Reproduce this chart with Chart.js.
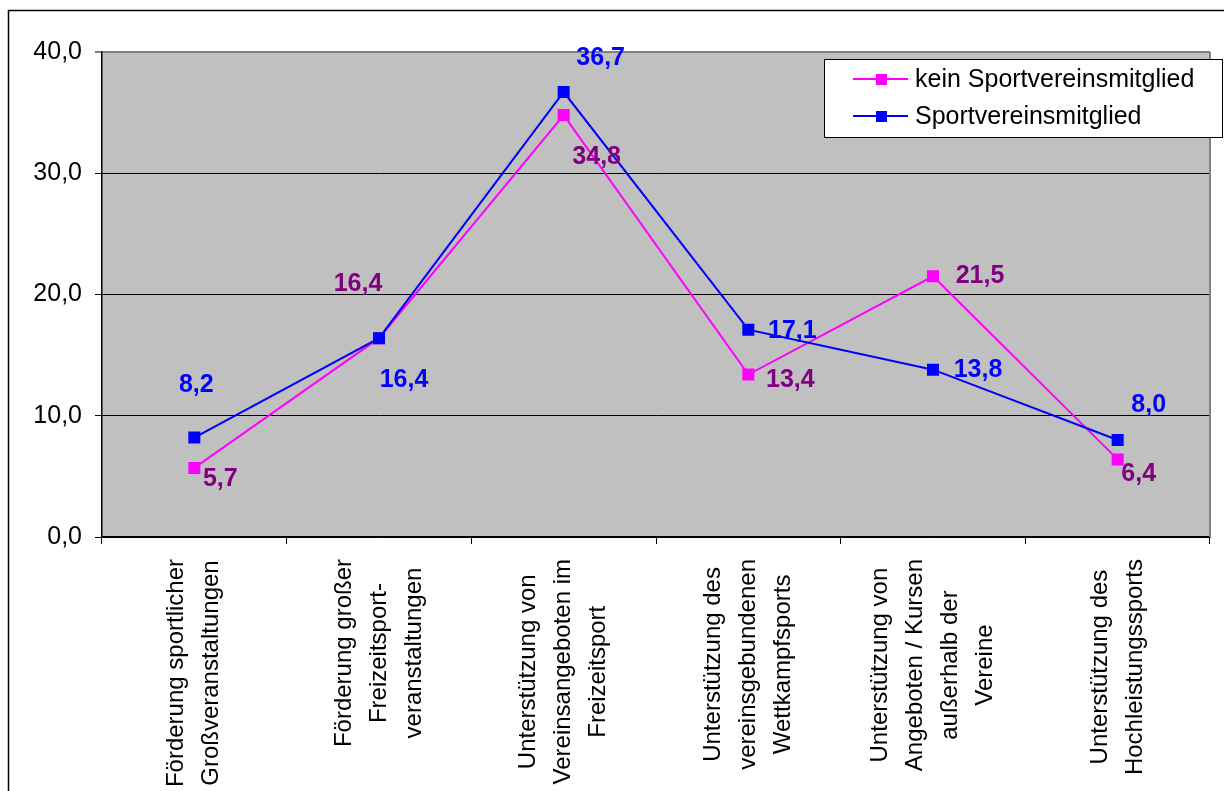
<!DOCTYPE html>
<html>
<head>
<meta charset="utf-8">
<script src="https://cdn.jsdelivr.net/npm/chart.js@4"></script>
<style>
  html, body { margin: 0; padding: 0; background: #fff; }
  #wrap { width: 1224px; height: 791px; position: relative; }
</style>
</head>
<body>
<div id="wrap"><canvas id="lineChart"></canvas></div>
<script>
const categories = [
    ["Förderung sportlicher", "Großveranstaltungen"],
    ["Förderung großer", "Freizeitsport-", "veranstaltungen"],
    ["Unterstützung von", "Vereinsangeboten im", "Freizeitsport"],
    ["Unterstützung des", "vereinsgebundenen", "Wettkampfsports"],
    ["Unterstützung von", "Angeboten / Kursen", "außerhalb der", "Vereine"],
    ["Unterstützung des", "Hochleistungssports"]
];
const keinMitglied = [5.7, 16.4, 34.8, 13.4, 21.5, 6.4];
const mitglied = [8.2, 16.4, 36.7, 17.1, 13.8, 8.0];
const yTicks = [0, 10, 20, 30, 40];

// where the value labels sit relative to their point (px)
const keinOffsets = [[26, 11], [-21, -54], [33, 42], [42, 6], [47, 0], [21, 15]];
const mitgliedOffsets = [[2, -52], [25, 42], [37, -34], [44, 1], [45, 0], [31, -35]];

const FONT = '"Liberation Sans", Arial, sans-serif';

function fmt(v) {
    return Number(v).toFixed(1).replace(".", ",");
}

const chartBackground = {
    id: "chartBackground",
    beforeDraw(chart) {
        const { ctx, chartArea: a } = chart;
        ctx.save();
        ctx.fillStyle = "#c0c0c0";
        ctx.fillRect(a.left, a.top, a.right - a.left, a.bottom - a.top);
        ctx.restore();
    },
    afterDraw(chart) {
        const { ctx, chartArea: a } = chart;
        ctx.save();
        // plot area right border
        ctx.strokeStyle = "#808080";
        ctx.lineWidth = 2;
        ctx.beginPath();
        ctx.moveTo(a.right, a.top);
        ctx.lineTo(a.right, a.bottom);
        ctx.stroke();
        // outer frame
        ctx.strokeStyle = "#000";
        ctx.lineWidth = 1.5;
        ctx.beginPath();
        ctx.moveTo(8.5, 800);
        ctx.lineTo(8.5, 10.5);
        ctx.lineTo(1230, 10.5);
        ctx.stroke();
        ctx.restore();
    }
};

const valueLabels = {
    id: "valueLabels",
    afterDatasetsDraw(chart) {
        const { ctx } = chart;
        ctx.save();
        ctx.font = "bold 25px " + FONT;
        ctx.textAlign = "center";
        ctx.textBaseline = "middle";
        chart.data.datasets.forEach((ds, i) => {
            const meta = chart.getDatasetMeta(i);
            meta.data.forEach((pt, j) => {
                const off = ds.labelOffsets[j];
                ctx.fillStyle = ds.labelColor;
                ctx.fillText(fmt(ds.data[j]), pt.x + off[0], pt.y + off[1]);
            });
        });
        ctx.restore();
    }
};

const xLabels = {
    id: "xLabels",
    afterDraw(chart) {
        const { ctx } = chart;
        const xs = chart.scales.x;
        const lineGap = 35;
        ctx.save();
        ctx.font = "24px " + FONT;
        ctx.fillStyle = "#000";
        ctx.textAlign = "center";
        ctx.textBaseline = "middle";
        categories.forEach((lines, i) => {
            const cx = xs.getPixelForValue(i);
            const maxW = Math.max(...lines.map(l => ctx.measureText(l).width));
            const cy = xs.top + 22 + maxW / 2;
            ctx.save();
            ctx.translate(cx, cy);
            ctx.rotate(-Math.PI / 2);
            lines.forEach((l, k) => {
                ctx.fillText(l, 0, (k - (lines.length - 1) / 2) * lineGap);
            });
            ctx.restore();
        });
        ctx.restore();
    }
};

const boxLegend = {
    id: "boxLegend",
    afterDraw(chart) {
        const { ctx } = chart;
        ctx.save();
        ctx.fillStyle = "#fff";
        ctx.fillRect(824, 59, 398, 78);
        ctx.strokeStyle = "#000";
        ctx.lineWidth = 1;
        ctx.strokeRect(824.5, 59.5, 398, 78);
        ctx.font = "25px " + FONT;
        ctx.textBaseline = "middle";
        ctx.textAlign = "left";
        chart.data.datasets.forEach((ds, i) => {
            const y = 79 + i * 37;
            ctx.strokeStyle = ds.borderColor;
            ctx.lineWidth = 2;
            ctx.beginPath();
            ctx.moveTo(853, y);
            ctx.lineTo(908, y);
            ctx.stroke();
            ctx.fillStyle = ds.borderColor;
            ctx.fillRect(876, y - 5, 11, 11);
            ctx.fillStyle = "#000";
            ctx.fillText(ds.label, 915, y + 1);
        });
        ctx.restore();
    }
};

new Chart(document.getElementById("lineChart"), {
    type: "line",
    data: {
        labels: categories.map(c => c.join(" ")),
        datasets: [{
            label: "kein Sportvereinsmitglied",
            data: keinMitglied,
            borderColor: "#ff00ff",
            backgroundColor: "#ff00ff",
            labelColor: "#800080",
            labelOffsets: keinOffsets,
            borderWidth: 2,
            tension: 0,
            pointStyle: "rect",
            pointRadius: 8.5,
            pointBorderWidth: 0,
            order: 1
        }, {
            label: "Sportvereinsmitglied",
            data: mitglied,
            borderColor: "#0000ff",
            backgroundColor: "#0000ff",
            labelColor: "#0000ff",
            labelOffsets: mitgliedOffsets,
            borderWidth: 2,
            tension: 0,
            pointStyle: "rect",
            pointRadius: 8.5,
            pointBorderWidth: 0,
            order: 0
        }]
    },
    options: {
        responsive: true,
        maintainAspectRatio: false,
        animation: false,
        layout: { padding: { left: 0, top: 52, right: 14, bottom: 0 } },
        plugins: {
            legend: { display: false },
            tooltip: { enabled: false }
        },
        scales: {
            x: {
                offset: true,
                grid: {
                    offset: true,
                    drawOnChartArea: false,
                    drawTicks: true,
                    tickLength: 7,
                    color: "#000"
                },
                border: { color: "#000", width: 1.5 },
                ticks: { display: false },
                afterFit(scale) { scale.height = 254; }
            },
            y: {
                min: 0,
                max: 40,
                afterBuildTicks(scale) {
                    scale.ticks = yTicks.map(v => ({ value: v }));
                },
                grid: {
                    color: ctx => ctx.tick && ctx.tick.value === 40 ? "#808080" : "#000",
                    lineWidth: ctx => ctx.tick && ctx.tick.value === 40 ? 2 : 1,
                    tickLength: 7
                },
                border: { color: "#000", width: 1.5 },
                ticks: {
                    color: "#000",
                    padding: 13,
                    font: { size: 25, family: FONT },
                    callback: v => fmt(v)
                },
                afterFit(scale) { scale.width = 102; }
            }
        }
    },
    plugins: [chartBackground, valueLabels, xLabels, boxLegend]
});
</script>
</body>
</html>
